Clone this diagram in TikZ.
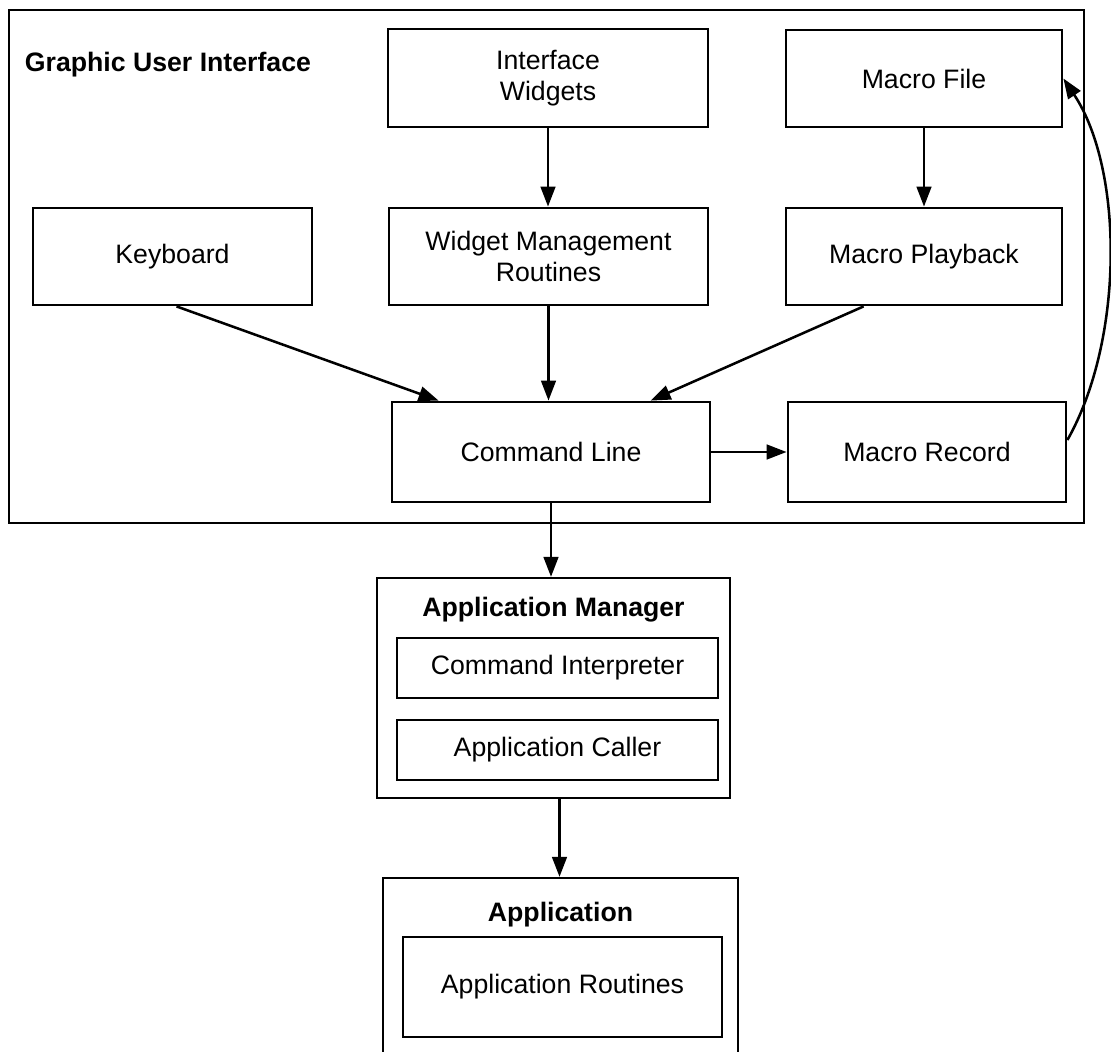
\documentclass[tikz,border=0pt]{standalone}
\usepackage{fontspec}
\setmainfont{Liberation Sans}
\usetikzlibrary{arrows.meta,calc}
\begin{document}
\begin{tikzpicture}[x=0.75pt,y=-0.75pt,
  box/.style={draw, line width=2.1pt, inner sep=0pt, align=center, font=\fontsize{20}{23}\selectfont},
  container/.style={draw, line width=1.7pt, inner sep=0pt},
  titletext/.style={font=\fontsize{20}{23}\selectfont\bfseries, inner sep=2pt},
  arr/.style={line width=1.9pt, -{Triangle[length=15pt,width=11pt]}}]
\useasboundingbox (0,0) rectangle (1111,1052);
\clip (0,0) rectangle (1111,1052);
% GUI container
\node[container, minimum width=806.25pt, minimum height=384.75pt, anchor=north west] (gui) at (8,9) {};
\node[titletext, anchor=west] (guit) at (22,65) {Graphic User Interface};
% boxes
\node[box, minimum width=240pt, minimum height=73.5pt] (iw) at (548,78) {Interface\\Widgets};
\node[box, minimum width=207pt, minimum height=72.75pt] (mf) at (924,78.5) {Macro File};
\node[box, minimum width=209.25pt, minimum height=72.75pt] (kb) at (172.5,256.5) {Keyboard};
\node[box, minimum width=239.25pt, minimum height=72.75pt] (wm) at (548.5,256.5) {Widget Management\\Routines};
\node[box, minimum width=207pt, minimum height=72.75pt] (mp) at (924,256.5) {Macro Playback};
\node[box, minimum width=238.5pt, minimum height=75pt] (cl) at (551,452) {Command Line};
\node[box, minimum width=208.5pt, minimum height=75pt] (mr) at (927,452) {Macro Record};
% Application manager
\node[container, minimum width=264.75pt, minimum height=165pt] (am) at (553.5,688) {};
\node[titletext] (amt) at (553.5,610) {Application Manager};
\node[box, minimum width=240.75pt, minimum height=45pt] (ci) at (557.5,668) {Command Interpreter};
\node[box, minimum width=240.75pt, minimum height=45pt] (ac) at (557.5,750) {Application Caller};
% Application
\node[container, minimum width=266.25pt, minimum height=151.5pt] (app) at (560.5,979) {};
\node[titletext] (appt) at (560.5,915) {Application};
\node[box, minimum width=239.25pt, minimum height=75pt] (ar) at (562.5,987) {Application Routines};
% helper points
\coordinate (kbo) at ($(kb.south)+(4,0)$);
\coordinate (cli) at ($(cl.north west)+(48,0)$);
\coordinate (mpo) at ($(mp.south west)+(79,0)$);
\coordinate (clr) at ($(cl.north west)+(260,0)$);
\coordinate (amo) at ($(am.south)+(6,0)$);
\coordinate (mro) at ($(mr.east)+(0,-12)$);
% arrows
\draw[arr] (iw.south) -- (iw.south |- wm.north);
\draw[arr] (mf.south) -- (mf.south |- mp.north);
\draw[arr] (kbo) -- (cli);
\draw[arr] (wm.south) -- (wm.south |- cl.north);
\draw[arr] (mpo) -- (clr);
\draw[arr] (cl.east) -- (mr.west);
\draw[arr] (cl.south) -- (cl.south |- am.north);
\draw[arr] (amo) -- (amo |- app.north);
\draw[arr] (mro) .. controls (1124,340) and (1124,170) .. (mf.east);
\end{tikzpicture}
\end{document}
